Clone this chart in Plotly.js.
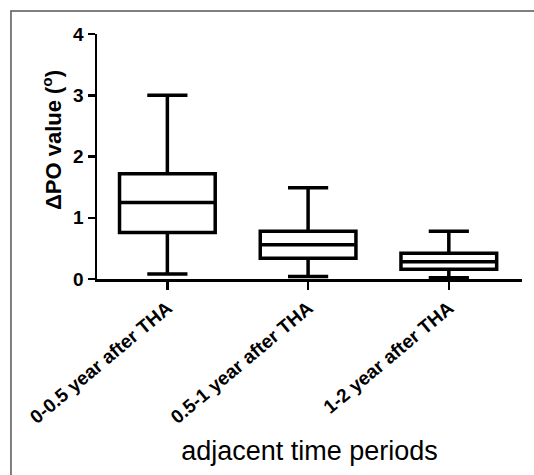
<!DOCTYPE html>
<html><head><meta charset="utf-8">
<script src="https://cdn.plot.ly/plotly-3.0.1.min.js"></script>
<style>body{margin:0;background:#fff}#c{width:534px;height:475px}</style>
</head><body><div id="c"></div>
<script>
const categories = ["0-0.5 year after THA", "0.5-1 year after THA", "1-2 year after THA"];
const lowerWhisker = [0.08, 0.04, 0.02];
const q1Values = [0.76, 0.34, 0.16];
const medianValues = [1.25, 0.56, 0.28];
const q3Values = [1.72, 0.78, 0.42];
const upperWhisker = [3.0, 1.49, 0.78];
const yTicks = [0, 1, 2, 3, 4];

const trace = {
  type: 'box',
  x: categories,
  q1: q1Values, median: medianValues, q3: q3Values,
  lowerfence: lowerWhisker, upperfence: upperWhisker,
  width: 0.68, whiskerwidth: 0.42,
  fillcolor: 'rgba(0,0,0,0)',
  line: {color: '#000', width: 3.5},
  boxpoints: false, hoverinfo: 'skip', showlegend: false
};

const layout = {
  width: 534, height: 475,
  margin: {l: 97, r: 12, t: 34, b: 196},
  paper_bgcolor: '#fff', plot_bgcolor: '#fff',
  font: {family: 'Liberation Sans, Arial, sans-serif', color: '#000'},
  xaxis: {
    type: 'category', range: [-0.5, 2.52],
    showline: true, linecolor: '#000', linewidth: 2.5,
    ticks: 'outside', ticklen: 8, tickwidth: 2.5, tickcolor: '#000',
    tickangle: -40, tickfont: {size: 19, weight: 'bold'},
    showgrid: false, zeroline: false, automargin: false,
    title: {text: 'adjacent time periods', font: {size: 27}, standoff: 14}
  },
  yaxis: {
    range: [0, 4], tickvals: yTicks, ticktext: yTicks.map(String),
    showline: true, linecolor: '#000', linewidth: 2.5,
    ticks: 'outside', ticklen: 7, tickwidth: 2.5, tickcolor: '#000',
    tickfont: {size: 19, weight: 'bold'},
    showgrid: false, zeroline: false, automargin: false
  },
  annotations: [{
    xref: 'paper', yref: 'paper', x: -0.106, y: 0.567,
    xanchor: 'center', yanchor: 'middle',
    text: 'ΔPO value (<sup>o</sup>)', textangle: -90, showarrow: false,
    font: {size: 22, weight: 'bold'}
  }],
  shapes: [{
    type: 'rect', xref: 'paper', yref: 'paper',
    x0: -0.2024, x1: 1.2, y0: -1.2, y1: 1.094,
    line: {color: '#555', width: 1.5}, fillcolor: 'rgba(0,0,0,0)', layer: 'below'
  }]
};
Plotly.newPlot('c', [trace], layout, {displayModeBar: false, staticPlot: true});
</script></body></html>
